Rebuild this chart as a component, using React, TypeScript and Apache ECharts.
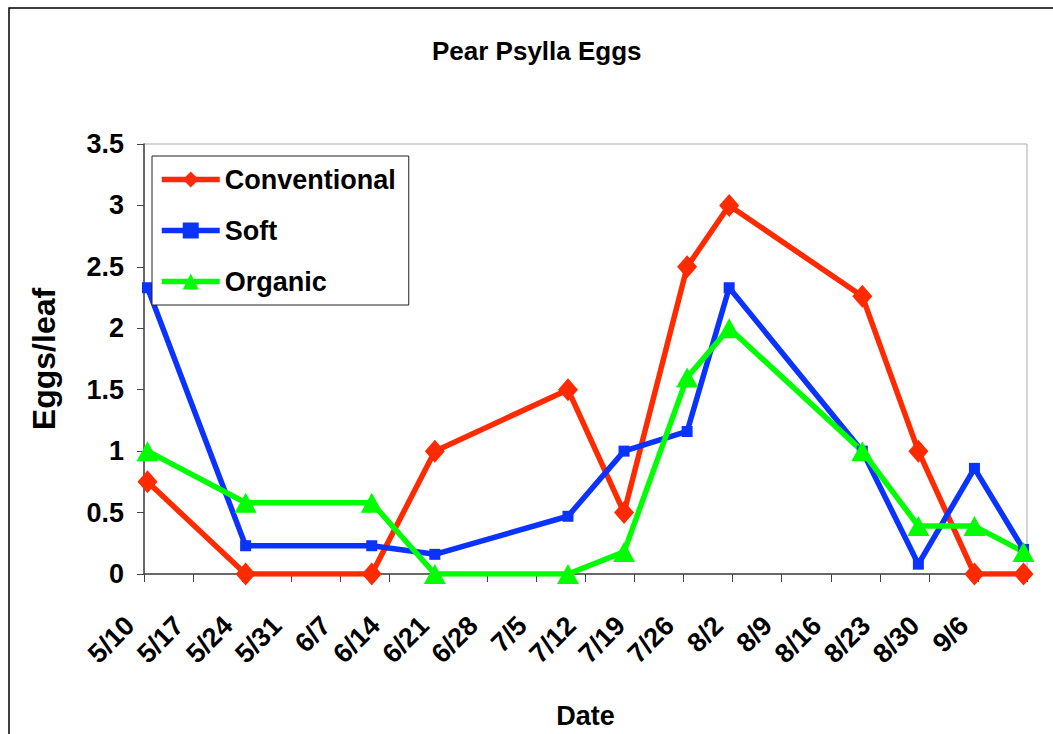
import React, { useEffect, useRef } from "react";
import * as echarts from "echarts";

const TITLE = "Pear Psylla Eggs";
const X_NAME = "Date";
const Y_NAME = "Eggs/leaf";
const START = "5/10";
const AXIS_DAYS = 126; // 5/10 .. 9/13
const seriesNames = ["Conventional", "Soft", "Organic"];
const dates = ["5/10", "5/24", "6/11", "6/20", "7/9", "7/17", "7/26", "8/1", "8/20", "8/28", "9/5", "9/12"];
const conventional = [0.75, 0, 0, 1.0, 1.5, 0.5, 2.5, 3.0, 2.26, 1.0, 0, 0];
const soft = [2.33, 0.23, 0.23, 0.16, 0.47, 1.0, 1.16, 2.33, 1.0, 0.08, 0.86, 0.2];
const organic = [1.0, 0.58, 0.58, 0, 0, 0.18, 1.6, 2.0, 1.0, 0.39, 0.39, 0.18];

const FONT = "'Liberation Sans', Arial, Helvetica, sans-serif";
const DAY = 86400000;
const YEAR = 2001;

function toTime(md: string) {
  const [m, d] = md.split("/").map(Number);
  return Date.UTC(YEAR, m - 1, d);
}
const t0 = toTime(START);
// points sit in the middle of their day on the date axis
function dayOffset(md: string) {
  return (toTime(md) - t0) / DAY + 0.5;
}
function fmtDay(v: number) {
  if (v >= AXIS_DAYS) return "";
  const dt = new Date(t0 + Math.round(v) * DAY);
  return `${dt.getUTCMonth() + 1}/${dt.getUTCDate()}`;
}

export default function App() {
  const ref = useRef<HTMLDivElement>(null);
  useEffect(() => {
    document.body.style.margin = "0";
    const chart = echarts.init(ref.current!, null, { renderer: "svg" });
    const mk = (vals: number[]) => dates.map((d, i) => [dayOffset(d), vals[i]]);
    const bold = { fontFamily: FONT, fontWeight: "bold" as const, fontSize: 27, color: "#000" };
    chart.setOption({
      animation: false,
      backgroundColor: "#fff",
      title: {
        text: TITLE,
        left: 432,
        top: 38,
        padding: 0,
        textStyle: { ...bold, fontSize: 26 },
      },
      graphic: [
        {
          type: "rect",
          shape: { x: 9, y: 8, width: 1200, height: 900 },
          style: { fill: "none", stroke: "#000", lineWidth: 1.5 },
          silent: true,
        },
      ],
      legend: {
        orient: "vertical",
        left: 152,
        top: 156,
        padding: [10, 13, 10, 7],
        itemGap: 24,
        itemWidth: 58,
        itemHeight: 20,
        borderColor: "#222",
        borderWidth: 1,
        backgroundColor: "#fff",
        lineStyle: { width: 5.5 },
        textStyle: { ...bold },
        data: seriesNames,
      },
      grid: {
        left: 144,
        top: 144,
        width: 883,
        height: 430,
        outerBoundsMode: "none",
        containLabel: false,
        show: true,
        borderColor: "#aaa",
        borderWidth: 1,
        backgroundColor: "#fff",
      },
      xAxis: {
        type: "value",
        min: 0,
        max: AXIS_DAYS,
        interval: 7,
        name: X_NAME,
        nameLocation: "middle",
        nameGap: 128,
        nameTextStyle: { ...bold },
        axisLine: { lineStyle: { color: "#444", width: 1.5 } },
        axisTick: { show: true, inside: false, length: 8, lineStyle: { color: "#444" } },
        splitLine: { show: false },
        axisLabel: {
          ...bold,
          rotate: 45,
          margin: 33,
          padding: [0, 20, 0, 0],
          formatter: (v: number) => fmtDay(v),
        },
      },
      yAxis: {
        type: "value",
        min: 0,
        max: 3.5,
        interval: 0.5,
        name: Y_NAME,
        nameLocation: "middle",
        nameRotate: 90,
        nameGap: 84,
        nameTextStyle: { ...bold, fontSize: 32 },
        axisLine: { show: true, lineStyle: { color: "#444", width: 1.5 } },
        axisTick: { show: true, inside: false, length: 7, lineStyle: { color: "#444" } },
        splitLine: { show: false },
        axisLabel: { ...bold, margin: 20 },
      },
      series: [
        {
          name: seriesNames[0],
          type: "line",
          data: mk(conventional),
          symbol: "diamond",
          symbolSize: [20, 23],
          color: "#ff2a00",
          lineStyle: { width: 5.5, color: "#ff2a00" },
          itemStyle: { color: "#ff2a00" },
        },
        {
          name: seriesNames[1],
          type: "line",
          data: mk(soft),
          symbol: "rect",
          symbolSize: 11,
          color: "#0a33ff",
          lineStyle: { width: 5.5, color: "#0a33ff" },
          itemStyle: { color: "#0a33ff" },
        },
        {
          name: seriesNames[2],
          type: "line",
          data: mk(organic),
          symbol: "triangle",
          symbolSize: [22, 20],
          color: "#00ff00",
          lineStyle: { width: 5.5, color: "#00ff00" },
          itemStyle: { color: "#00ff00" },
        },
      ],
    });
    return () => chart.dispose();
  }, []);
  return <div ref={ref} style={{ width: 1053, height: 734 }} />;
}
